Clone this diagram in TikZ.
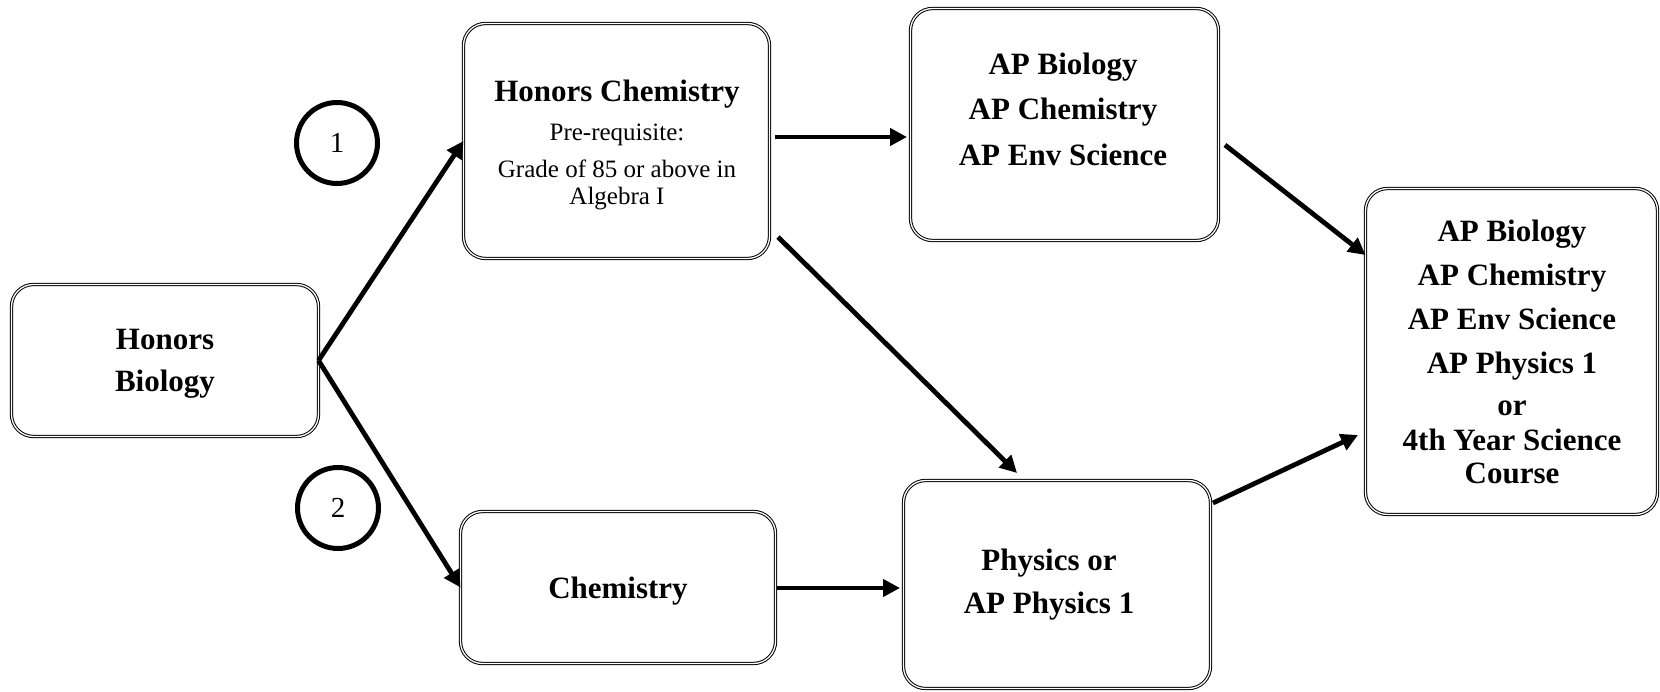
\documentclass[tikz,border=0pt]{standalone}
\usepackage{fontspec}
\setmainfont{Liberation Serif}
\usetikzlibrary{arrows.meta}
\begin{document}
\begin{tikzpicture}[x=1pt,y=-1pt,
  box/.style={draw, rectangle, rounded corners=22pt, double, line width=1pt, double distance=1.3pt, inner sep=0pt, outer sep=0pt},
  txt/.style={align=center, inner sep=0pt, font=\fontsize{31}{42}\selectfont\bfseries},
  conn/.style={line width=4.8pt, -{Triangle[length=17pt,width=17pt]}},
  num/.style={draw, circle, line width=5pt, minimum size=81pt, inner sep=0pt, font=\fontsize{29}{30}\selectfont}]
\useasboundingbox (0,0) rectangle (1660,692);
% boxes
\node[box, minimum width=307pt, minimum height=152pt] (HB) at (165,360.5) {};
\node[box, minimum width=306pt, minimum height=235pt] (HC) at (616.5,141) {};
\node[box, minimum width=308pt, minimum height=232pt] (AP) at (1064.5,124.5) {};
\node[box, minimum width=292pt, minimum height=326pt] (FIN) at (1511.5,351.5) {};
\node[box, minimum width=315pt, minimum height=152pt] (CH) at (618,587.5) {};
\node[box, minimum width=307pt, minimum height=208pt] (PH) at (1057,584.5) {};
% texts
\node[txt] (HBt) at (165,364) {Honors\\Biology};
\node[txt, font=\fontsize{25}{27}\selectfont] (HCt) at (617,145) {{\fontsize{31}{27}\selectfont\bfseries Honors Chemistry}\\[12pt]Pre-requisite:\\[10pt]Grade of 85 or above in\\Algebra I};
\node[txt, font=\fontsize{31}{45.5}\selectfont\bfseries] (APt) at (1063,109) {AP Biology\\AP Chemistry\\AP Env Science};
\node[txt, font=\fontsize{31}{33}\selectfont\bfseries] (FINt) at (1512,351.5) {AP Biology\\[11pt]AP Chemistry\\[11pt]AP Env Science\\[11pt]AP Physics 1\\[9pt]or\\[2pt]4th Year Science\\Course};
\node[txt] (CHt) at (618,591) {Chemistry};
\node[txt, font=\fontsize{31}{43}\selectfont\bfseries] (PHt) at (1049,584.5) {Physics or\\AP Physics 1};
% numbered circles
\node[num] (C1) at (337,143) {1};
\node[num] (C2) at (338,508) {2};
% connectors
\draw[conn] (HB.east) -- (HC.west);
\draw[conn] (HB.east) -- (CH.west);
\draw[conn] ([shift={(5.5,-4)}]HC.east) -- ([shift={(-3.5,12.5)}]AP.west);
\draw[conn] ([shift={(8.5,-21.5)}]HC.south east) -- ([shift={(-40,-7.5)}]PH.north);
\draw[conn] ([shift={(6.5,20.5)}]AP.east) -- ([shift={(0,-96.5)}]FIN.west);
\draw[conn] ([shift={(1.5,0.5)}]CH.east) -- ([shift={(-3.5,3.5)}]PH.west);
\draw[conn] ([shift={(2.5,22.5)}]PH.north east) -- ([shift={(-7.5,83.5)}]FIN.west);
\end{tikzpicture}
\end{document}
